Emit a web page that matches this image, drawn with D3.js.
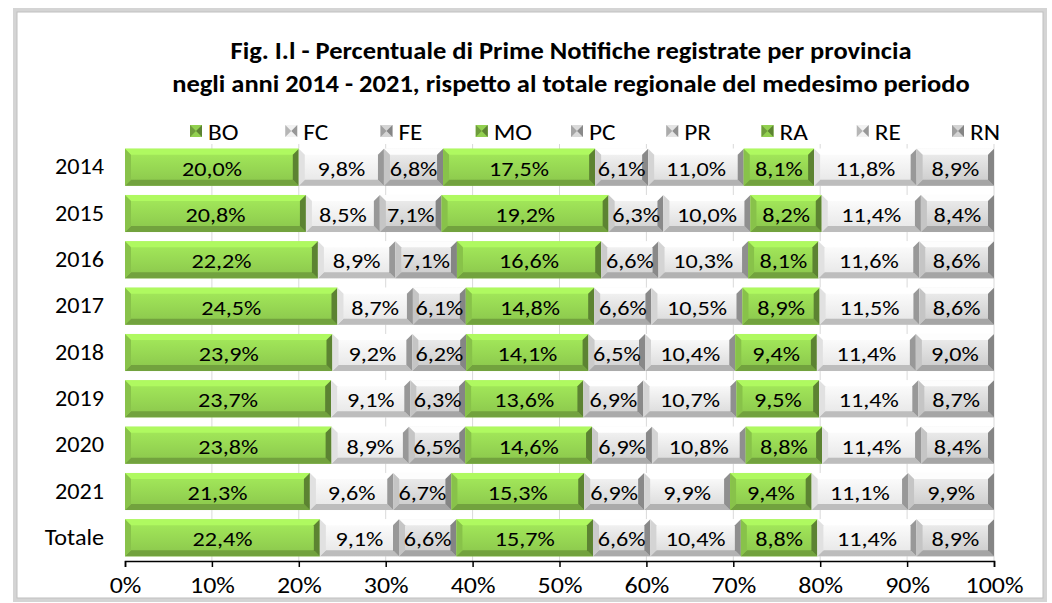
<!DOCTYPE html>
<html lang="it">
<head>
<meta charset="UTF-8">
<title>Prime Notifiche per provincia</title>
<script src="https://d3js.org/d3.v7.min.js"></script>
<style>
  body { margin: 0; background: #fff; }
  text { font-family: Carlito, Lato, "Open Sans", sans-serif; fill: #000; }
</style>
</head>
<body>
<svg></svg>
<script>
// categories and series (percent values)
const years = ["2014", "2015", "2016", "2017", "2018", "2019", "2020", "2021", "Totale"];
const provinces = ["BO", "FC", "FE", "MO", "PC", "PR", "RA", "RE", "RN"];
const BO = [20.0, 20.8, 22.2, 24.5, 23.9, 23.7, 23.8, 21.3, 22.4];
const FC = [9.8, 8.5, 8.9, 8.7, 9.2, 9.1, 8.9, 9.6, 9.1];
const FE = [6.8, 7.1, 7.1, 6.1, 6.2, 6.3, 6.5, 6.7, 6.6];
const MO = [17.5, 19.2, 16.6, 14.8, 14.1, 13.6, 14.6, 15.3, 15.7];
const PC = [6.1, 6.3, 6.6, 6.6, 6.5, 6.9, 6.9, 6.9, 6.6];
const PR = [11.0, 10.0, 10.3, 10.5, 10.4, 10.7, 10.8, 9.9, 10.4];
const RA = [8.1, 8.2, 8.1, 8.9, 9.4, 9.5, 8.8, 9.4, 8.8];
const RE = [11.8, 11.4, 11.6, 11.5, 11.4, 11.4, 11.4, 11.1, 11.4];
const RN = [8.9, 8.4, 8.6, 8.6, 9.0, 8.7, 8.4, 9.9, 8.9];
const xTicks = [0, 0.1, 0.2, 0.3, 0.4, 0.5, 0.6, 0.7, 0.8, 0.9, 1];

const series = { BO, FC, FE, MO, PC, PR, RA, RE, RN };
const table = years.map((y, i) => {
  const row = { year: y };
  provinces.forEach(p => row[p] = series[p][i]);
  return row;
});

// face colours per province
const faces = {
  BO: "#92d050", FC: "#f2f2f2", FE: "#d4d4d4", MO: "#92d050", PC: "#dadada",
  PR: "#e4e4e4", RA: "#92d050", RE: "#f2f2f2", RN: "#d4d4d4"
};

const W = 1052, H = 603;
const svg = d3.select("svg").attr("width", W).attr("height", H);

// chart frame
svg.append("rect").attr("x", 15).attr("y", 10).attr("width", 1030).attr("height", 590)
  .attr("fill", "none").attr("stroke", "#d4d4d4").attr("stroke-width", 4);
svg.append("rect").attr("x", 17).attr("y", 12).attr("width", 1026).attr("height", 586)
  .attr("fill", "#fff").attr("stroke", "#bfbfbf").attr("stroke-width", 1);

// text helper: the original text is a little wider than the font, so stretch it
function label(parent, tx, ty, str, size, sx) {
  return parent.append("text")
    .attr("transform", `translate(${tx},${ty}) scale(${sx},1)`)
    .style("font-size", size + "px")
    .text(str);
}

// title
label(svg, 571, 59, "Fig. I.l - Percentuale di Prime Notifiche registrate per provincia", 25, 1.06)
  .attr("text-anchor", "middle").style("font-weight", "bold");
label(svg, 571, 92, "negli anni 2014 - 2021, rispetto al totale regionale del medesimo periodo", 25, 1.06)
  .attr("text-anchor", "middle").style("font-weight", "bold");

const x = d3.scaleLinear().domain([0, 1]).range([125, 994]);
const y = d3.scaleBand().domain(years).range([144, 561]).paddingInner(0.2).paddingOuter(0.1);

const stack = d3.stack().keys(provinces).offset(d3.stackOffsetExpand);
const stacked = stack(table);

// gridlines
svg.append("g").selectAll("line").data(xTicks.slice(1)).join("line")
  .attr("x1", d => x(d)).attr("x2", d => x(d))
  .attr("y1", 144).attr("y2", 561)
  .attr("stroke", "#d9d9d9").attr("stroke-width", 1);

// gradients for bevelled faces
const defs = svg.append("defs");
provinces.forEach(p => {
  const c = d3.color(faces[p]);
  const g = defs.append("linearGradient").attr("id", "g" + p)
    .attr("x1", 0).attr("y1", 0).attr("x2", 0).attr("y2", 1);
  g.append("stop").attr("offset", "0%").attr("stop-color", c.brighter(0.35));
  g.append("stop").attr("offset", "100%").attr("stop-color", c.darker(0.15));
});

const b = 6;
const layer = svg.append("g").selectAll("g").data(stacked).join("g");
const seg = layer.selectAll("g").data(s => s.map(d => ({ key: s.key, d }))).join("g");

seg.each(function (o) {
  const g = d3.select(this);
  const x0 = x(o.d[0]), x1 = x(o.d[1]);
  const y0 = y(o.d.data.year), y1 = y0 + y.bandwidth();
  const c = d3.color(faces[o.key]);
  const pts = a => a.map(p => p.join(",")).join(" ");
  g.append("rect").attr("x", x0).attr("y", y0).attr("width", x1 - x0).attr("height", y1 - y0)
    .attr("fill", `url(#g${o.key})`);
  g.append("polygon").attr("points", pts([[x0, y0], [x1, y0], [x1 - b, y0 + b], [x0 + b, y0 + b]]))
    .attr("fill", c.brighter(0.5));
  g.append("polygon").attr("points", pts([[x0, y1], [x1, y1], [x1 - b, y1 - b], [x0 + b, y1 - b]]))
    .attr("fill", c.darker(0.7));
  g.append("polygon").attr("points", pts([[x0, y0], [x0 + b, y0 + b], [x0 + b, y1 - b], [x0, y1]]))
    .attr("fill", c.darker(0.2));
  g.append("polygon").attr("points", pts([[x1, y0], [x1 - b, y0 + b], [x1 - b, y1 - b], [x1, y1]]))
    .attr("fill", c.darker(1.3));
  label(g, (x0 + x1) / 2, (y0 + y1) / 2 + 1,
        d3.format(".1f")(o.d.data[o.key]).replace(".", ",") + "%", 21, 1.15)
    .attr("text-anchor", "middle").attr("dominant-baseline", "central");
});

// x axis
const xAxis = svg.append("g").attr("transform", "translate(0,561)")
  .call(d3.axisBottom(x).tickValues(xTicks).tickFormat(d3.format(".0%")).tickSizeOuter(0).tickSize(6).tickPadding(10));
xAxis.select(".domain").attr("stroke", "#000").attr("stroke-width", 1.5);
xAxis.selectAll(".tick line").attr("stroke", "#000").attr("stroke-width", 1.5);
xAxis.selectAll("text").attr("transform", "scale(1.18,1)")
  .style("font-size", "22px").style("font-family", "Carlito, Lato, 'Open Sans', sans-serif");

// y axis labels
const yAxis = svg.append("g").attr("transform", "translate(125,0)")
  .call(d3.axisLeft(y).tickSize(0).tickPadding(19));
yAxis.select(".domain").remove();
yAxis.selectAll("text").attr("transform", "scale(1.1,1)")
  .style("font-size", "22px").style("font-family", "Carlito, Lato, 'Open Sans', sans-serif");

// legend
const lx = d3.scalePoint().domain(provinces).range([190, 952]);
const leg = svg.append("g").selectAll("g").data(provinces).join("g")
  .attr("transform", p => `translate(${lx(p)},131)`);
leg.each(function (p) {
  const g = d3.select(this);
  const c = d3.color(faces[p]);
  g.append("rect").attr("x", 0).attr("y", -6).attr("width", 12).attr("height", 12).attr("fill", c);
  g.append("polygon").attr("points", "0,-6 6,0 0,6").attr("fill", c.darker(0.8));
  g.append("polygon").attr("points", "12,-6 6,0 12,6").attr("fill", c.darker(1.3));
  label(g, 18, 1, p, 22, 1.15).attr("dominant-baseline", "central");
});
</script>
</body>
</html>
